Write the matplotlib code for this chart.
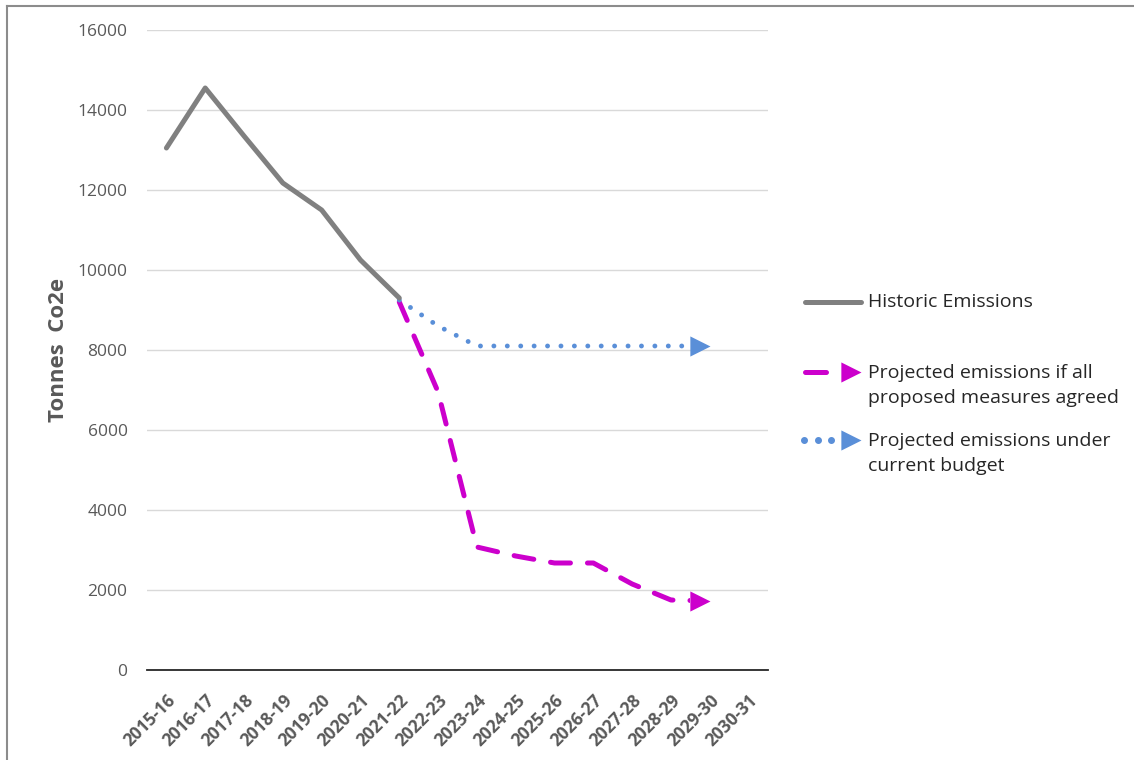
import matplotlib
matplotlib.use("Agg")
import matplotlib.pyplot as plt
import numpy as np
from matplotlib.path import Path
from matplotlib.patches import Rectangle

plt.rcParams['font.family'] = ['Open Sans', 'DejaVu Sans']

years = ['2015-16', '2016-17', '2017-18', '2018-19', '2019-20', '2020-21',
         '2021-22', '2022-23', '2023-24', '2024-25', '2025-26', '2026-27',
         '2027-28', '2028-29', '2029-30', '2030-31']
historic = [13050, 14550, 13350, 12175, 11500, 10250, 9300]
all_measures = [9200, 6950, 3075, 2850, 2675, 2675, 2150, 1750, 1725]
current_budget = [9250, 8600, 8100, 8100, 8100, 8100, 8100, 8100, 8100]
proj_start = 6

GRAY = '#808080'
MAGENTA = '#cc00cc'
BLUE = '#5a8fd8'
TXT = '#595959'

# right-pointing triangle with its tip at the data point
arrow = Path([(0, 0), (-2, 1), (-2, -1), (0, 0)],
             [Path.MOVETO, Path.LINETO, Path.LINETO, Path.CLOSEPOLY])

fig = plt.figure(figsize=(11.34, 7.6), dpi=100)
ax = fig.add_axes([147/1134, 1 - 670/760, 621/1134, 640/760])

x = np.arange(len(years))
xp = x[proj_start:proj_start + len(all_measures)]

ax.plot(x[:len(historic)], historic, color=GRAY, lw=3.6,
        solid_capstyle='round', solid_joinstyle='round', zorder=4)

# projected lines stop at the base of the arrow head
clip_w = xp[-1] - 0.5 + 0.5
mag, = ax.plot(xp, all_measures, color=MAGENTA, lw=3.6, linestyle=(0, (4, 3.4)),
               dash_capstyle='round', zorder=3)
mag.set_clip_path(Rectangle((-0.5, -1000), clip_w, 20000, transform=ax.transData))
ax.plot(xp[-1], all_measures[-1], marker=arrow, ms=29, color=MAGENTA,
        mec=MAGENTA, mew=0, zorder=6)
blu, = ax.plot(xp, current_budget, color=BLUE, lw=3.5, linestyle=(0, (0.01, 2.75)),
               dash_capstyle='round', zorder=3)
blu.set_clip_path(Rectangle((-0.5, -1000), clip_w, 20000, transform=ax.transData))
ax.plot(xp[-1], current_budget[-1], marker=arrow, ms=29, color=BLUE,
        mec=BLUE, mew=0, zorder=6)

ax.set_xlim(-0.5, len(years) - 0.5)
ax.set_ylim(0, 16000)
ax.set_yticks(np.arange(0, 16001, 2000))
ax.set_xticks(x)
ax.set_xticklabels(years, rotation=45, ha='right', va='top',
                   rotation_mode='anchor', fontweight='bold', fontsize=12.5,
                   color=TXT)
ax.tick_params(axis='x', length=0, pad=15)
ax.tick_params(axis='y', length=0, pad=14, labelsize=12.5, labelcolor=TXT)
ax.grid(axis='y', color='#d9d9d9', lw=1)
ax.set_axisbelow(True)
for s in ['top', 'right', 'left']:
    ax.spines[s].set_visible(False)
ax.spines['bottom'].set_color('#262626')
ax.spines['bottom'].set_linewidth(1.3)

ax.set_ylabel('Tonnes  Co2e', fontsize=16, fontweight='bold', color=TXT)
ax.yaxis.set_label_coords(-0.125, 0.5)

# overlay in pixel units for the legend and chart border
ov = fig.add_axes([0, 0, 1, 1])
ov.set_xlim(0, 1134)
ov.set_ylim(760, 0)
ov.axis('off')

ov.plot([7, 1134], [6, 6], color='#8c8c8c', lw=1.5)
ov.plot([7, 7], [6, 760], color='#8c8c8c', lw=1.5)

lfs = 14
ov.plot([805, 861], [302, 302], color=GRAY, lw=3.6, solid_capstyle='round')
ov.text(868, 302, 'Historic Emissions', fontsize=lfs, va='center', color='#262626')

ov.plot([805, 826], [372, 372], color=MAGENTA, lw=3.6, solid_capstyle='round')
ov.plot(861, 372, marker=arrow, ms=29, color=MAGENTA, mew=0)
ov.text(868, 385.5, 'Projected emissions if all\nproposed measures agreed',
        fontsize=lfs, va='center', color='#262626', linespacing=1.55)

ov.plot([804, 818, 831], [440, 440, 440], color=BLUE, lw=0, marker='o', ms=4)
ov.plot(861, 440, marker=arrow, ms=29, color=BLUE, mew=0)
ov.text(868, 453.5, 'Projected emissions under\ncurrent budget',
        fontsize=lfs, va='center', color='#262626', linespacing=1.55)

fig.savefig('out.png', dpi=100)
